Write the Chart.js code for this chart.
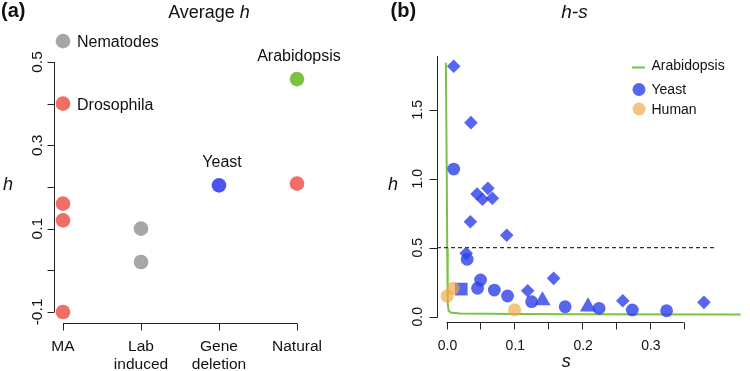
<!DOCTYPE html>
<html><head><meta charset="utf-8">
<script src="https://cdn.jsdelivr.net/npm/chart.js@4"></script>
<style>
html,body{margin:0;padding:0;background:#fff;width:750px;height:371px;overflow:hidden}
#wa{position:absolute;left:0;top:0;width:375px;height:371px}
#wb{position:absolute;left:375px;top:0;width:375px;height:371px}
</style></head><body>
<div id="wa"><canvas id="ca" width="375" height="371"></canvas></div>
<div id="wb"><canvas id="cb" width="375" height="371"></canvas></div>
<script>
// ---------- Panel (a): Average h ----------
const categories = ['MA', ['Lab', 'induced'], ['Gene', 'deletion'], 'Natural'];
// [category index, average h]
const nematodesH = [[0, 0.55], [1, 0.10], [1, 0.02]];
const drosophilaH = [[0, 0.40], [0, 0.16], [0, 0.12], [0, -0.10], [3, 0.208]];
const yeastAvgH = [[2, 0.204]];
const arabidopsisAvgH = [[3, 0.459]];
const panelAYTicks = [-0.1, 0, 0.1, 0.2, 0.3, 0.4, 0.5];
const panelAYLabels = [-0.1, 0.1, 0.3, 0.5];

// ---------- Panel (b): h-s ----------
// [s, h]
const yeastDiamonds = [[0.0106, 1.815], [0.036, 1.406], [0.045, 0.889], [0.053, 0.851], [0.061, 0.930],
  [0.0676, 0.858], [0.0352, 0.688], [0.0888, 0.590], [0.029, 0.459], [0.1197, 0.188], [0.158, 0.278],
  [0.260, 0.116], [0.3797, 0.104]];
const yeastCircles = [[0.0106, 1.070], [0.0304, 0.416], [0.0502, 0.266], [0.0458, 0.206], [0.0705, 0.193],
  [0.090, 0.150], [0.1255, 0.109], [0.175, 0.072], [0.225, 0.061], [0.274, 0.049], [0.3246, 0.043]];
const yeastSquares = [[0.0217, 0.200]];
const yeastTriangles = [[0.1415, 0.117], [0.2087, 0.072]];
const humanHS = [[0.0096, 0.206], [0.0009, 0.150], [0.1004, 0.049]];
const arabidopsisCurve = [[-0.001, 1.84], [0.0004, 1.0], [0.001, 0.5], [0.0015, 0.3], [0.002, 0.1],
  [0.003, 0.045], [0.006, 0.03], [0.02, 0.024], [0.1, 0.019], [0.2, 0.017], [0.44, 0.016]];
const dominanceThreshold = 0.5;
const thresholdEndS = 0.396;
const sTicks = [0, 0.05, 0.1, 0.15, 0.2, 0.25, 0.3, 0.35];
const sLabels = [0, 0.1, 0.2, 0.3];
const hTicks = [0, 0.5, 1.0, 1.5];

const FONT = "'Liberation Sans', Arial, Helvetica, sans-serif";
const RED = '#EF6F67', GRAY = '#A6A6A6', BLUE = '#4B55EE', GREEN = '#7CC242';
const BLUE_T = 'rgba(44,64,234,0.8)', ORANGE_T = 'rgba(240,168,70,0.68)';
const AXIS = '#222', TXT = '#111';

const pts = arr => arr.map(([x, y]) => ({x, y}));

function rotLabel(ctx, text, x, y) {
  ctx.save(); ctx.translate(x, y); ctx.rotate(-Math.PI / 2);
  ctx.textAlign = 'center'; ctx.textBaseline = 'alphabetic';
  ctx.fillText(text, 0, 0); ctx.restore();
}

// ---------- Chart A ----------
const annotA = [
  {text: 'Nematodes', at: nematodesH[0], dx: 14, dy: 6, align: 'left'},
  {text: 'Drosophila', at: drosophilaH[0], dx: 14, dy: 6, align: 'left'},
  {text: 'Arabidopsis', at: arabidopsisAvgH[0], dx: 2, dy: -18, align: 'center'},
  {text: 'Yeast', at: yeastAvgH[0], dx: 3, dy: -18, align: 'center'}
];

const axesA = {
  id: 'axesA',
  afterDraw(chart) {
    const {ctx, chartArea: ca, scales: {x, y}} = chart;
    ctx.save();
    ctx.strokeStyle = AXIS; ctx.lineWidth = 1;
    const xl = Math.round(ca.left) + 0.5;
    ctx.beginPath();
    ctx.moveTo(xl, y.getPixelForValue(panelAYTicks[panelAYTicks.length - 1]));
    ctx.lineTo(xl, y.getPixelForValue(panelAYTicks[0]));
    panelAYTicks.forEach(v => { const p = Math.round(y.getPixelForValue(v)) + 0.5; ctx.moveTo(xl, p); ctx.lineTo(xl - 7, p); });
    const yb = Math.round(ca.bottom) + 0.5;
    ctx.moveTo(x.getPixelForValue(0), yb); ctx.lineTo(x.getPixelForValue(categories.length - 1), yb);
    categories.forEach((c, i) => { const p = Math.round(x.getPixelForValue(i)) + 0.5; ctx.moveTo(p, yb); ctx.lineTo(p, yb + 7); });
    ctx.stroke();

    ctx.fillStyle = TXT;
    ctx.font = `15.5px ${FONT}`;
    panelAYLabels.forEach(v => rotLabel(ctx, v.toFixed(1), xl - 12.5, y.getPixelForValue(v)));
    ctx.textAlign = 'center'; ctx.textBaseline = 'alphabetic';
    categories.forEach((c, i) => {
      const lines = Array.isArray(c) ? c : [c];
      lines.forEach((l, j) => ctx.fillText(l, x.getPixelForValue(i), yb + 27 + j * 18.5));
    });
    // annotations
    ctx.font = `16px ${FONT}`;
    annotA.forEach(a => {
      ctx.textAlign = a.align;
      ctx.fillText(a.text, x.getPixelForValue(a.at[0]) + a.dx, y.getPixelForValue(a.at[1]) + a.dy);
    });
    // titles
    ctx.textAlign = 'left';
    ctx.font = `bold 20px ${FONT}`;
    ctx.fillText('(a)', 1, 17);
    ctx.font = `18px ${FONT}`;
    const t1 = 'Average ', t2 = 'h';
    const w1 = ctx.measureText(t1).width;
    ctx.font = `italic 18px ${FONT}`;
    const w2 = ctx.measureText(t2).width;
    const sx = 209 - (w1 + w2) / 2;
    ctx.font = `18px ${FONT}`; ctx.fillText(t1, sx, 17.5);
    ctx.font = `italic 18px ${FONT}`; ctx.fillText(t2, sx + w1, 17.5);
    ctx.font = `italic 18px ${FONT}`; ctx.textAlign = 'center';
    ctx.fillText('h', 8, 190);
    ctx.restore();
  }
};

const pA = (data, color) => ({type: 'scatter', data: pts(data), backgroundColor: color, borderWidth: 0,
  pointRadius: 7.3, pointHoverRadius: 7.3, clip: false});

new Chart(document.getElementById('ca'), {
  type: 'scatter',
  data: {datasets: [pA(nematodesH, GRAY), pA(drosophilaH, RED), pA(yeastAvgH, BLUE), pA(arabidopsisAvgH, GREEN)]},
  options: {
    responsive: false, animation: false, devicePixelRatio: 1, events: [],
    layout: {padding: {left: 54, right: 45, top: 30, bottom: 48.3}},
    plugins: {legend: {display: false}, tooltip: {enabled: false}},
    scales: {
      x: {type: 'linear', display: false, min: -0.11538, max: 3.4231},
      y: {type: 'linear', display: false, min: -0.12568, max: 0.5768}
    }
  },
  plugins: [axesA]
});

// ---------- Chart B ----------
const axesB = {
  id: 'axesB',
  afterDraw(chart) {
    const {ctx, chartArea: ca, scales: {x, y}} = chart;
    ctx.save();
    ctx.strokeStyle = AXIS; ctx.lineWidth = 1;
    const xl = Math.round(ca.left) + 0.5;
    ctx.beginPath();
    ctx.moveTo(xl, ca.top); ctx.lineTo(xl, Math.round(y.getPixelForValue(hTicks[0])) + 0.5);
    hTicks.forEach(v => { const p = Math.round(y.getPixelForValue(v)) + 0.5; ctx.moveTo(xl, p); ctx.lineTo(xl - 8, p); });
    const yb = Math.round(ca.bottom) + 0.5;
    ctx.moveTo(x.getPixelForValue(sTicks[0]), yb); ctx.lineTo(x.getPixelForValue(sTicks[sTicks.length - 1]), yb);
    sTicks.forEach(v => { const p = Math.round(x.getPixelForValue(v)) + 0.5; ctx.moveTo(p, yb); ctx.lineTo(p, yb + 7); });
    ctx.stroke();

    ctx.fillStyle = TXT;
    ctx.font = `14px ${FONT}`;
    hTicks.forEach(v => rotLabel(ctx, v.toFixed(1), xl - 15.5, y.getPixelForValue(v)));
    ctx.textAlign = 'center'; ctx.textBaseline = 'alphabetic';
    sLabels.forEach(v => ctx.fillText(v.toFixed(1), x.getPixelForValue(v) + 1, yb + 27));
    ctx.font = `italic 18px ${FONT}`;
    ctx.fillText('s', (x.getPixelForValue(sTicks[0]) + x.getPixelForValue(sTicks[sTicks.length - 1])) / 2 + 1, 367);
    ctx.fillText('h', 18, 190);
    // titles
    ctx.textAlign = 'left';
    ctx.font = `bold 20px ${FONT}`;
    ctx.fillText('(b)', 15.5, 17);
    ctx.textAlign = 'center';
    ctx.font = `italic 19px ${FONT}`;
    ctx.fillText('h-s', 199.5, 17.5);
    // legend
    ctx.strokeStyle = GREEN; ctx.lineWidth = 2;
    ctx.beginPath(); ctx.moveTo(257, 67.5); ctx.lineTo(270, 67.5); ctx.stroke();
    ctx.fillStyle = BLUE_T; ctx.beginPath(); ctx.arc(264, 89.5, 6.5, 0, Math.PI * 2); ctx.fill();
    ctx.fillStyle = ORANGE_T; ctx.beginPath(); ctx.arc(264, 109, 6.5, 0, Math.PI * 2); ctx.fill();
    ctx.fillStyle = TXT; ctx.textAlign = 'left'; ctx.font = `14px ${FONT}`;
    ctx.fillText('Arabidopsis', 276.5, 70);
    ctx.fillText('Yeast', 276.5, 94.3);
    ctx.fillText('Human', 276.5, 114);
    ctx.restore();
  }
};

const sMin = -0.014058, sMax = 0.43377;
const pB = (data, color, style, r, order) => ({type: 'scatter', data: pts(data), backgroundColor: color,
  borderWidth: 0, pointStyle: style, pointRadius: r, pointHoverRadius: r, clip: false, order});

new Chart(document.getElementById('cb'), {
  type: 'scatter',
  data: {datasets: [
    {type: 'line', data: pts(arabidopsisCurve), borderColor: GREEN, borderWidth: 2, pointRadius: 0,
      tension: 0, fill: false, order: 5},
    {type: 'line', data: [{x: sMin, y: dominanceThreshold}, {x: thresholdEndS, y: dominanceThreshold}],
      borderColor: '#333', borderWidth: 1.3, borderDash: [4, 3], pointRadius: 0, fill: false, order: 4},
    pB(yeastCircles, BLUE_T, 'circle', 6.4, 2),
    pB(yeastDiamonds, BLUE_T, 'rectRot', 6.8, 2),
    pB(yeastSquares, BLUE_T, 'rect', 9, 2),
    pB(yeastTriangles, BLUE_T, 'triangle', 9.4, 2),
    pB(humanHS, ORANGE_T, 'circle', 6.6, 1)
  ]},
  options: {
    responsive: false, animation: false, devicePixelRatio: 1, events: [],
    layout: {padding: {left: 62, right: 4, top: 56, bottom: 49}},
    plugins: {legend: {display: false}, tooltip: {enabled: false}},
    scales: {
      x: {type: 'linear', display: false, min: sMin, max: sMax},
      y: {type: 'linear', display: false, min: -0.0384, max: 1.8891}
    }
  },
  plugins: [axesB]
});
</script>
</body></html>
